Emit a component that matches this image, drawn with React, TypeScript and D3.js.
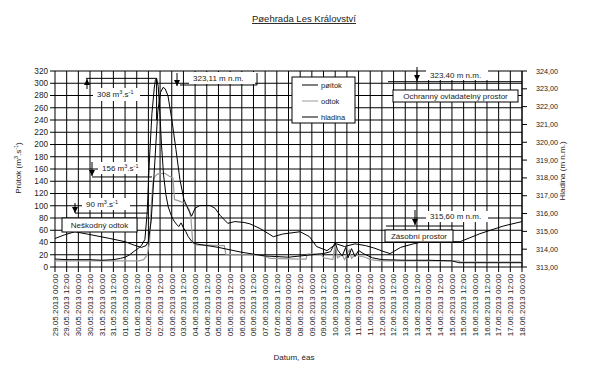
import React from "react";
import * as d3 from "d3";

// ---- data (time in days from 29.05.2013 00:00) ----
const inflowDays = [0, 0.5, 1.0, 1.5, 2.0, 2.5, 2.8, 3.0, 3.2, 3.4, 3.55, 3.7, 3.85, 3.95, 4.05, 4.15, 4.25, 4.3, 4.35, 4.42, 4.48, 4.56, 4.65, 4.75, 4.85, 5.0, 5.1, 5.2, 5.3, 5.4, 5.5, 5.6, 5.7, 5.85, 6.0, 6.5, 7.0, 7.5, 8.0, 8.5, 9.0, 9.5, 10.0, 10.5, 11.0, 11.5, 11.8, 12.0, 12.1, 12.3, 12.45, 12.55, 12.7, 12.85, 13.0, 13.2, 13.6, 14.0, 15.0, 16.0, 17.0, 17.3, 18.0, 19.0, 20.0];
const inflowValues = [13, 12, 12, 12, 11, 12, 14, 16, 20, 26, 30, 35, 45, 90, 180, 250, 292, 305, 308, 295, 260, 200, 150, 118, 98, 82, 75, 70, 66, 72, 64, 58, 50, 42, 38, 35, 32, 28, 24, 21, 18, 17, 16, 18, 20, 22, 25, 40, 28, 18, 32, 15, 30, 17, 27, 22, 15, 12, 11, 11, 10, 7, 7, 7, 7];

const outflowDays = [0, 3.6, 3.8, 3.95, 4.05, 4.12, 4.2, 4.28, 4.4, 4.7, 4.9, 5.05, 5.12, 5.3, 5.55, 5.65, 5.75, 5.82, 5.9, 6.0, 7.25, 7.32, 8.5, 9.0, 9.2, 10.5, 10.75, 10.8, 11.4, 11.5, 11.9, 12.0, 12.1, 12.3, 12.4, 12.6, 12.7, 12.9, 13.0, 13.3, 13.5, 14.0, 17.3, 17.35, 20.0];
const outflowValues = [10, 10, 12, 20, 40, 100, 140, 148, 152, 153, 148, 145, 110, 108, 104, 100, 93, 80, 40, 36, 35, 20, 20, 18, 14, 13, 13, 21, 21, 15, 12, 38, 15, 20, 12, 28, 14, 22, 18, 16, 12, 10, 10, 8, 8];

const levelDays = [0, 0.4, 0.85, 1.5, 2.35, 3.0, 3.4, 3.7, 3.9, 4.0, 4.12, 4.28, 4.4, 4.52, 4.63, 4.72, 4.84, 5.0, 5.18, 5.35, 5.52, 5.7, 5.85, 6.0, 6.2, 6.64, 6.85, 7.07, 7.4, 7.7, 8.1, 8.35, 8.8, 9.35, 9.75, 10.5, 10.9, 11.2, 11.65, 12.05, 12.4, 12.85, 13.3, 13.7, 14.05, 14.35, 14.8, 15.35, 16.35, 17.05, 17.35, 18.2, 19.2, 20.0];
const levelValues = [314.6, 314.8, 314.98, 314.82, 314.6, 314.42, 314.22, 314.1, 314.2, 314.45, 315.6, 319.0, 321.7, 322.8, 323.08, 323.0, 322.6, 321.3, 319.6, 317.9, 316.8, 316.25, 315.85, 316.3, 316.45, 316.45, 316.3, 315.9, 315.45, 315.55, 315.5, 315.42, 315.15, 314.7, 314.85, 314.98, 314.7, 314.15, 313.92, 314.3, 314.15, 314.3, 314.2, 314.05, 313.88, 313.75, 314.1, 314.3, 314.6, 314.42, 314.42, 314.87, 315.3, 315.55];

const flowTicks = d3.range(0, 321, 20);
const levelTicks = d3.range(313, 324.01, 1);
const seriesNames = ["pøítok", "odtok", "hladina"];

const W = 608, H = 379;
const T0 = new Date(2013, 4, 29, 0, 0);
const T1 = new Date(2013, 5, 18, 0, 0);
const toDate = (d: number) => new Date(T0.getTime() + d * 86400000);

const FONT = "'Liberation Sans', Arial, sans-serif";
const TXT = "#222";

function Arrow({ x, from, to }: { x: number; from: number; to: number }) {
  const dir = to > from ? 1 : -1;
  return (
    <g>
      <line x1={x} x2={x} y1={from} y2={to} stroke="#000" strokeWidth={1} />
      <path d={`M${x - 3},${to - dir * 6}L${x + 3},${to - dir * 6}L${x},${to}Z`} fill="#000" />
    </g>
  );
}

function Flow({ x, y, v }: { x: number; y: number; v: string }) {
  return (
    <text x={x} y={y} fontSize={8} fill={TXT} fontFamily={FONT}>
      {v} m<tspan dy={-3} fontSize={5.5}>3</tspan>
      <tspan dy={3}>.s</tspan>
      <tspan dy={-3} fontSize={5.5}>-1</tspan>
    </text>
  );
}

export default function App() {
  const xS = d3.scaleTime().domain([T0, T1]).range([55, 522]);
  const yL = d3.scaleLinear().domain([0, 320]).range([267, 71]);
  const yR = d3.scaleLinear().domain([313, 324]).range([267, 71]);

  const xTicks = d3.timeHour.every(12)!.range(T0, new Date(T1.getTime() + 1000));
  const fmt = d3.timeFormat("%d.%m.%Y %H:%M");
  const fmtR = (v: number) => d3.format(".2f")(v).replace(".", ",");

  const lineFlow = d3
    .line<[number, number]>()
    .x((d) => xS(toDate(d[0])))
    .y((d) => yL(d[1]));
  const lineLevel = d3
    .line<[number, number]>()
    .x((d) => xS(toDate(d[0])))
    .y((d) => yR(d[1]));

  const inflow = inflowDays.map((d, i) => [d, inflowValues[i]] as [number, number]);
  const outflow = outflowDays.map((d, i) => [d, outflowValues[i]] as [number, number]);
  const level = levelDays.map((d, i) => [d, levelValues[i]] as [number, number]);

  const peakIn = inflow.reduce((a, b) => (b[1] > a[1] ? b : a));
  const xPeak = xS(toDate(peakIn[0]));

  return (
    <svg
      width={W}
      height={H}
      style={{ position: "absolute", left: 0, top: 0, background: "#fff" }}
      fontFamily={FONT}
    >
      <rect width={W} height={H} fill="#fff" />
      {/* title */}
      <text x={304} y={22} textAnchor="middle" fontSize={9.5} fill={TXT} textDecoration="underline">
        Pøehrada Les Království
      </text>

      {/* grid */}
      {flowTicks.map((t) => (
        <line key={"h" + t} x1={55} x2={522} y1={yL(t)} y2={yL(t)} stroke="#000" strokeWidth={1} />
      ))}
      {xTicks.map((t, i) => (
        <line key={"v" + i} x1={xS(t)} x2={xS(t)} y1={71} y2={272} stroke="#000" strokeWidth={1} />
      ))}

      {/* left axis */}
      {flowTicks.map((t) => (
        <g key={"l" + t}>
          <line x1={50} x2={55} y1={yL(t)} y2={yL(t)} stroke="#000" />
          <text x={48} y={yL(t)} dy="0.35em" textAnchor="end" fontSize={8.2} fill={TXT}>
            {t}
          </text>
        </g>
      ))}
      {/* right axis */}
      <line x1={522} x2={522} y1={71} y2={267} stroke="#000" />
      {levelTicks.map((t) => (
        <g key={"r" + t}>
          <line x1={522} x2={527} y1={yR(t)} y2={yR(t)} stroke="#000" />
          <text x={536} y={yR(t)} dy="0.35em" fontSize={7.2} fill={TXT}>
            {fmtR(t)}
          </text>
        </g>
      ))}
      {/* x labels */}
      {xTicks.map((t, i) => (
        <text
          key={"x" + i}
          transform={`translate(${xS(t)},274) rotate(-90)`}
          textAnchor="end"
          dy="0.35em"
          fontSize={8}
          fill={TXT}
        >
          {fmt(t)}
        </text>
      ))}

      {/* axis titles */}
      <text transform="translate(21,168) rotate(-90)" textAnchor="middle" fontSize={8} fill={TXT}>
        Prùtok (m<tspan dy={-3} fontSize={5.5}>3</tspan>
        <tspan dy={3}>.s</tspan>
        <tspan dy={-3} fontSize={5.5}>-1</tspan>
        <tspan dy={3}>)</tspan>
      </text>
      <text transform="translate(565,171) rotate(-90)" textAnchor="middle" fontSize={8} fill={TXT}>
        Hladina (m n.m.)
      </text>
      <text x={294} y={360} textAnchor="middle" fontSize={8} fill={TXT}>
        Datum, èas
      </text>

      {/* data lines */}
      <path d={lineFlow(outflow)!} fill="none" stroke="#9a9a9a" strokeWidth={1.2} />
      <path d={lineFlow(inflow)!} fill="none" stroke="#000" strokeWidth={1} />
      <path d={lineLevel(level)!} fill="none" stroke="#000" strokeWidth={1} />

      {/* annotation: 308 */}
      <line x1={86} x2={xPeak} y1={yL(308)} y2={yL(308)} stroke="#000" />
      <line x1={xPeak} x2={xPeak} y1={yL(308)} y2={yL(240)} stroke="#000" />
      <Arrow x={87} from={89} to={79} />
      <rect x={93} y={88} width={47} height={13} fill="#fff" />
      <Flow x={97} y={97} v="308" />

      {/* annotation: 323,11 */}
      <Arrow x={177} from={73} to={86} />
      <rect x={189} y={72} width={66} height={12} fill="#fff" />
      <line x1={180} x2={257} y1={85} y2={85} stroke="#000" />
      <line x1={257} x2={257} y1={73} y2={85} stroke="#000" />
      <text x={193} y={81} fontSize={8} fill={TXT}>
        323,11 m n.m.
      </text>

      {/* annotation: 156 */}
      <line x1={92} x2={152} y1={yL(147)} y2={yL(147)} stroke="#000" />
      <Arrow x={92} from={162} to={176} />
      <rect x={98} y={162} width={50} height={12} fill="#fff" />
      <Flow x={102} y={171} v="156" />

      {/* annotation: 90 */}
      <line x1={75} x2={148} y1={yL(88)} y2={yL(88)} stroke="#000" />
      <Arrow x={75} from={203} to={213} />
      <rect x={82} y={198} width={48} height={12} fill="#fff" />
      <Flow x={86} y={207} v="90" />
      <rect x={62} y={218} width={75} height={14} fill="#fff" stroke="#000" />
      <text x={99.5} y={228} textAnchor="middle" fontSize={8} fill={TXT}>
        Neškodný odtok
      </text>

      {/* annotation: 323.40 */}
      <line x1={388} x2={522} y1={yR(323.4)} y2={yR(323.4)} stroke="#000" />
      <Arrow x={417} from={67} to={81} />
      <rect x={426} y={70} width={62} height={10} fill="#fff" />
      <text x={430} y={78} fontSize={8} fill={TXT}>
        323.40 m n.m.
      </text>
      <rect x={393} y={90} width={125} height={12} fill="#fff" stroke="#000" />
      <text x={455.5} y={99} textAnchor="middle" fontSize={8} fill={TXT}>
        Ochranný ovladatelný prostor
      </text>

      {/* annotation: 315,60 */}
      <line x1={386} x2={463} y1={226} y2={226} stroke="#000" />
      <Arrow x={415} from={210} to={225} />
      <rect x={426} y={211} width={62} height={11} fill="#fff" />
      <text x={430} y={219} fontSize={8} fill={TXT}>
        315,60 m n.m.
      </text>
      <rect x={385} y={230} width={68} height={12} fill="#fff" stroke="#000" />
      <text x={419} y={239} textAnchor="middle" fontSize={8} fill={TXT}>
        Zásobní prostor
      </text>

      {/* legend */}
      <rect x={292} y={77} width={63} height={46} fill="#fff" stroke="#000" />
      {seriesNames.map((n, i) => (
        <g key={n}>
          <line
            x1={302}
            x2={318}
            y1={85 + i * 16}
            y2={85 + i * 16}
            stroke={i === 1 ? "#9a9a9a" : "#000"}
            strokeWidth={1}
          />
          <text x={321} y={85 + i * 16} dy="0.35em" fontSize={7.5} fill={TXT}>
            {n}
          </text>
        </g>
      ))}
    </svg>
  );
}
